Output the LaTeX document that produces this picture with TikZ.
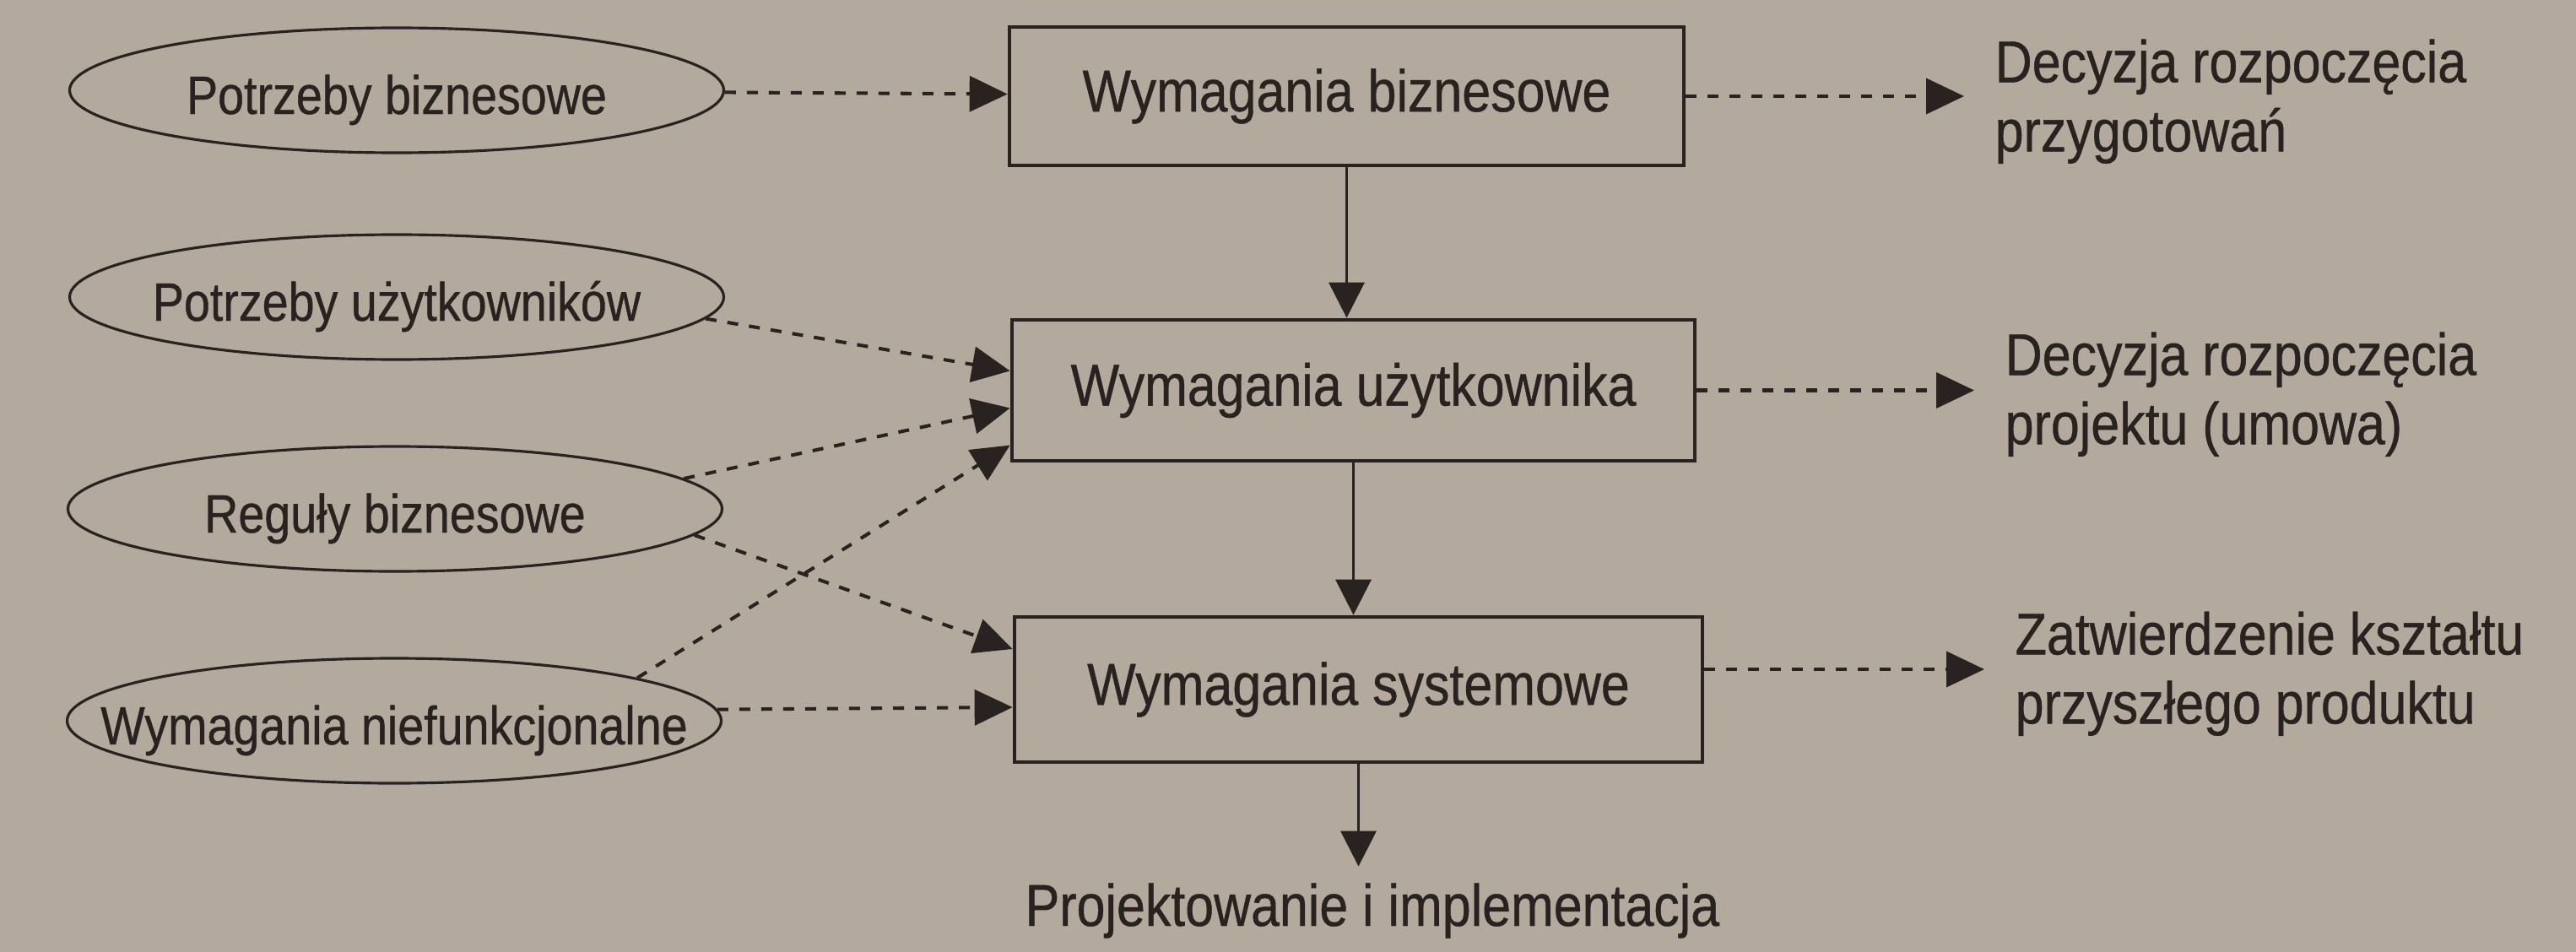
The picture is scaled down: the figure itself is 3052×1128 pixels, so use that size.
\documentclass[tikz,border=0pt]{standalone}
\usepackage{fontspec}
\newfontfamily\lab[FakeStretch=0.87,FakeBold=0.6]{Liberation Sans}
\usetikzlibrary{shapes.geometric,arrows.meta,calc}
\definecolor{paper}{RGB}{179,170,157}
\definecolor{ink}{RGB}{40,34,32}
\begin{document}
\begin{tikzpicture}[x=0.1mm,y=-0.1mm,
  ell/.style={ellipse,draw=ink,line width=0.9pt,minimum width=77.5mm,minimum height=14.8mm,inner sep=0pt},
  etext/.style={anchor=base,text=ink,inner sep=0pt,font=\lab\fontsize{18.2pt}{22pt}\selectfont},
  reqbox/.style={draw=ink,line width=1.35pt,inner sep=0pt,text=ink,font=\lab\fontsize{19.92pt}{23.3pt}\selectfont},
  lbl/.style={anchor=north west,align=left,inner sep=0pt,text=ink,font=\lab\fontsize{19.92pt}{23.3pt}\selectfont},
  darr/.style={draw=ink,line width=1.15pt,dash pattern=on 3.7pt off 3.7pt,-{Triangle[length=4.5mm,width=4.2mm]}},
  sarr/.style={draw=ink,line width=0.95pt,-{Triangle[length=4.2mm,width=4.2mm]}}]
\useasboundingbox (0,0) rectangle (3052,1128);
\fill[paper] (0,0) rectangle (3052,1128);

% ellipses
\node[ell] (e1) at (470,107) {};
\node[ell] (e2) at (470,352) {};
\node[ell] (e3) at (468,603) {};
\node[ell] (e4) at (467,854) {};
\node[etext] (t1) at ($(e1)+(0,28)$) {Potrzeby biznesowe};
\node[etext] (t2) at ($(e2)+(0,28)$) {Potrzeby użytkowników};
\node[etext] (t3) at ($(e3)+(0,28)$) {Reguły biznesowe};
\node[etext] (t4) at ($(e4)+(0,28)$) {Wymagania niefunkcjonalne};

% boxes
\node[reqbox,minimum width=79.9mm,minimum height=16.4mm] (b1) at (1595.5,114) {Wymagania biznesowe};
\node[reqbox,minimum width=80.9mm,minimum height=16.7mm] (b2) at (1603.5,462.5) {Wymagania użytkownika};
\node[reqbox,minimum width=81.5mm,minimum height=17.2mm] (b3) at (1609.5,817) {Wymagania systemowe};

% right labels
\node[lbl] (l1) at (2363,46) {Decyzja rozpoczęcia\\przygotowań};
\node[lbl] (l2) at (2375,393) {Decyzja rozpoczęcia\\projektu (umowa)};
\node[lbl] (l3) at (2387,724) {Zatwierdzenie kształtu\\przyszłego produktu};

% bottom label
\node[etext,font=\lab\fontsize{19.92pt}{23.3pt}\selectfont] (pi) at (1626,1097) {Projektowanie i implementacja};

% left dashed connectors
\draw[darr] (e1) -- (b1);
\coordinate (q2a) at ($(b2.west)+(0,-23)$);
\coordinate (q2b) at ($(b2.west)+(0,21)$);
\coordinate (q2c) at ($(b2.west)+(0,65)$);
\coordinate (q3a) at ($(b3.west)+(0,-48)$);
\coordinate (q3b) at ($(b3.west)+(0,21)$);
\draw[darr] (e2.-4) -- (q2a);
\draw[darr] (e3.6) -- (q2b);
\draw[darr] (e4.10) -- (q2c);
\draw[darr] (e3.-5) -- (q3a);
\draw[darr] (e4.2) -- (q3b);

% right dashed connectors
\coordinate (r3) at ($(b3.east)+(0,-24)$);
\draw[darr,shorten >=3.6mm] (b1.east) -- (b1.east -| l1.west);
\draw[darr,shorten >=3.6mm] (b2.east) -- (b2.east -| l2.west);
\draw[darr,shorten >=3.6mm] (r3) -- (r3 -| l3.west);

% vertical solid arrows
\draw[sarr] (b1.south) -- (b1.south |- b2.north);
\draw[sarr] (b2.south) -- (b2.south |- b3.north);
\draw[sarr,shorten >=1.9mm] (b3.south) -- (b3.south |- pi.north);
\end{tikzpicture}
\end{document}
